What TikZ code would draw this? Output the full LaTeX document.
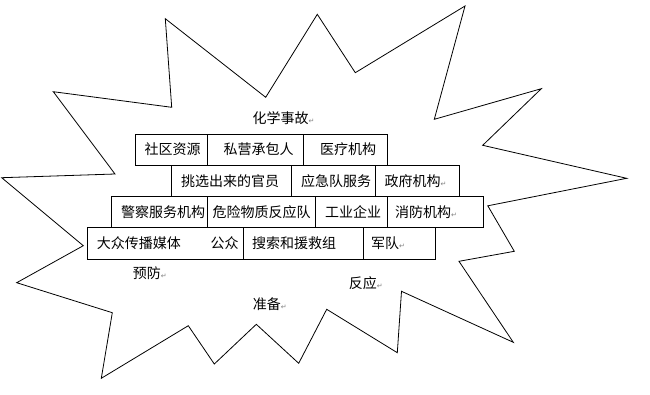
\documentclass[tikz,border=0pt]{standalone}
\usepackage{fontspec}
\setmainfont{Noto Sans CJK SC}
\newfontfamily\arrowfont{DejaVu Sans}
\newcommand{\pmark}{{\arrowfont\fontsize{7}{7}\selectfont\textcolor{gray}{↵}}}
\begin{document}
\begin{tikzpicture}[x=1pt,y=-1pt,
  burst/.style={draw=black,line width=0.8pt,line join=miter},
  cell/.style={draw=black,line width=1pt},
  lbl/.style={anchor=west,inner sep=0pt,font=\fontsize{14}{14}\selectfont}]
\useasboundingbox (0,0) rectangle (650,394);
\draw[burst] (165.3,18.7) -- (265.7,97.3) -- (317.3,14.3) -- (355.3,72.7) -- (465,6) -- (434.3,119.3) -- (541.3,88.7) -- (482.7,145.3) -- (626.7,178.3) -- (487.8,205.8) -- (514.3,251.3) -- (459,261.3) -- (513.3,342.3) -- (401.5,291.3) -- (397.3,352.7) -- (326.7,309.3) -- (298.7,363.3) -- (256.3,324.3) -- (214.3,364) -- (188.3,325.7) -- (101.3,378.3) -- (112.3,312.7) -- (16.7,282.7) -- (83.3,245.7) -- (1.7,177.7) -- (115,174) -- (53.3,91.7) -- (171.7,107.3) -- cycle;
% row 1
\draw[cell] (135,134) rectangle (207.7,165);
\draw[cell] (207.7,134) rectangle (303.3,165);
\draw[cell] (303.3,134) rectangle (387.3,165);
% row 2
\draw[cell] (171.7,165) rectangle (291.7,196.3);
\draw[cell] (291.7,165) rectangle (375.7,196.3);
\draw[cell] (375.7,165) rectangle (459.3,196.3);
% row 3
\draw[cell] (111.7,196.3) rectangle (207.7,227);
\draw[cell] (207.7,196.3) rectangle (315.7,227);
\draw[cell] (315.7,196.3) rectangle (387.3,227);
\draw[cell] (387.3,196.3) rectangle (483.3,227);
% row 4
\draw[cell] (87.3,227) rectangle (243.3,259);
\draw[cell] (243.3,227) rectangle (363.7,259);
\draw[cell] (363.7,227) rectangle (435.3,259);
% texts
\node[lbl] (t0) at (252.3,118) {化学事故\pmark};
\node[lbl] (a1) at (144.3,149.5) {社区资源};
\node[lbl] (a2) at (223.3,149.5) {私营承包人};
\node[lbl] (a3) at (320,149.5) {医疗机构};
\node[lbl] (b1) at (181,180.7) {挑选出来的官员};
\node[lbl] (b2) at (301,180.7) {应急队服务};
\node[lbl] (b3) at (384.3,180.7) {政府机构\pmark};
\node[lbl] (c1) at (121,211.7) {警察服务机构};
\node[lbl] (c2) at (212.3,211.7) {危险物质反应队};
\node[lbl] (c3) at (325,211.7) {工业企业};
\node[lbl] (c4) at (395,211.7) {消防机构\pmark};
\node[lbl] (d1) at (96.6,243) {大众传播媒体};
\node[lbl] (d2) at (210.3,243) {公众};
\node[lbl] (d3) at (252,243) {搜索和援救组};
\node[lbl] (d4) at (371,243) {军队\pmark};
\node[lbl] (p1) at (132.6,273.3) {预防\pmark};
\node[lbl] (p2) at (348.6,283.3) {反应\pmark};
\node[lbl] (p3) at (252.6,304.3) {准备\pmark};
\end{tikzpicture}
\end{document}
